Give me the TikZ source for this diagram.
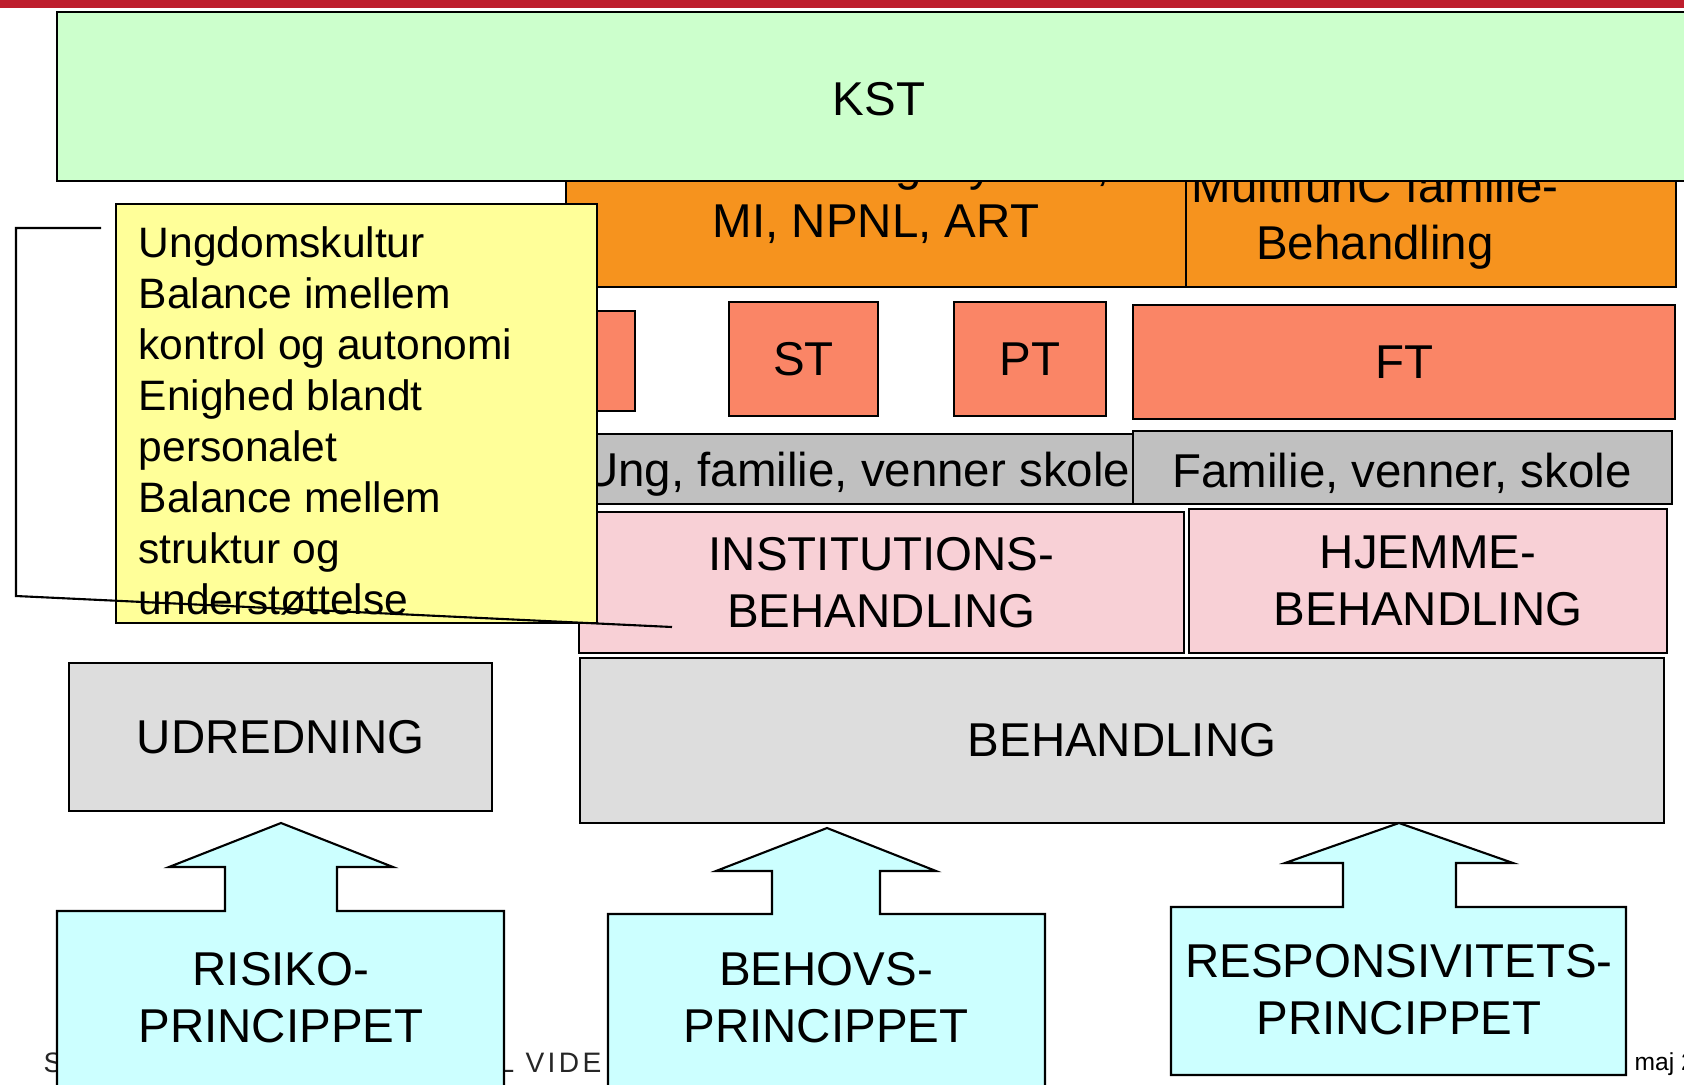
\documentclass[tikz,border=0pt]{standalone}
\usepackage{fontspec}
\setmainfont{Liberation Sans}
\newfontfamily\footfont[LetterSpace=12]{Liberation Sans}
\usetikzlibrary{fit}

\definecolor{topred}{HTML}{BE1E2D}
\definecolor{kstgreen}{HTML}{CCFFCC}
\definecolor{progorange}{HTML}{F6931E}
\definecolor{salmon}{HTML}{FA8566}
\definecolor{midgray}{HTML}{C0C0C0}
\definecolor{lightpink}{HTML}{F8D0D6}
\definecolor{palegray}{HTML}{DDDDDD}
\definecolor{noteyellow}{HTML}{FFFF99}
\definecolor{palecyan}{HTML}{CCFFFF}

\tikzset{
  box/.style={draw, line width=0.6pt, inner sep=0pt},
  txt/.style={inner sep=0pt, align=center, font=\fontsize{13.5}{16.2}\selectfont},
  notetxt/.style={inner sep=0pt, align=left, font=\fontsize{12.1}{14.5}\selectfont},
  foot/.style={inner sep=0pt, text=black!85, font=\footfont\fontsize{8}{9}\selectfont}
}

\begin{document}
\begin{tikzpicture}[x=0.01cm, y=-0.01cm]
    \useasboundingbox (0,0) rectangle (1684,1084);
    \clip (0,0) rectangle (1684,1084);
    \fill[topred] (0,0) rectangle (1684,8);

    % programme layer (partly under KST)
    \node[box, fill=progorange, fit={(566,140) (1186,287)}] (progL) {};
    \node[box, fill=progorange, fit={(1186,140) (1676,287)}] (progR) {};
    \node[txt] (progLtxt) at (876,195) {Forstærkningssystem,\\MI, NPNL, ART};
    \node[txt] (progRtxt) at (1375,219) {MultifunC familie-\\Behandling};

    \node[box, fill=kstgreen, fit={(57,12) (1720,181)}] (kst) {};
    \node[txt] (ksttxt) at (879,99) {KST};

    % therapies
    \node[box, fill=salmon, fit={(500,311) (635,411)}] (mt) {};
    \node[box, fill=salmon, fit={(729,302) (878,416)}] (st) {};
    \node[box, fill=salmon, fit={(954,302) (1106,416)}] (pt) {};
    \node[box, fill=salmon, fit={(1133,305) (1675,419)}] (ft) {};
    \node[txt] (sttxt) at (st.center) {ST};
    \node[txt] (pttxt) at (pt.center) {PT};
    \node[txt] (fttxt) at (ft.center) {FT};

    % networks
    \node[box, fill=midgray, fit={(500,434) (1133,504)}] (netL) {};
    \node[box, fill=midgray, fit={(1133,431) (1672,504)}] (netR) {};
    \node[txt, anchor=east] (netLtxt) at (1131,474) {Ung, familie, venner skole};
    \node[txt] (netRtxt) at (1402,473) {Familie, venner, skole};

    % settings
    \node[box, fill=lightpink, fit={(579,512) (1184,653)}] (inst) {};
    \node[box, fill=lightpink, fit={(1189,509) (1667,653)}] (home) {};
    \node[txt] (insttxt) at (inst.center) {INSTITUTIONS-\\BEHANDLING};
    \node[txt] (hometxt) at (home.center) {HJEMME-\\BEHANDLING};

    % note
    \node[box, fill=noteyellow, fit={(116,204) (597,623)}] (note) {};
    \node[notetxt, anchor=north west] (notetxt) at (138,226)
      {Ungdomskultur\\Balance imellem\\kontrol og autonomi\\Enighed blandt\\personalet\\Balance mellem\\struktur og\\understøttelse};
    \coordinate (brA) at (101,228);
    \coordinate (brB) at (16,228);
    \coordinate (brC) at (16,596);
    \coordinate (brD) at (672,627);
    \draw[line width=0.6pt] (brA) -- (brB) -- (brC) -- (brD);

    \node[box, fill=palegray, fit={(69,663) (492,811)}] (udr) {};
    \node[box, fill=palegray, fit={(580,658) (1664,823)}] (beh) {};
    \node[txt] (udrtxt) at (udr.center) {UDREDNING};
    \node[txt] (behtxt) at (beh.center) {BEHANDLING};

    % footer
    \node[foot, anchor=west] (footS) at (43,1063) {S};
    \node[foot, anchor=west] (footV) at (498,1063) {L VIDE};
    \node[inner sep=0pt, anchor=west, font=\fontsize{7}{8}\selectfont] (footdate) at (1634,1064) {maj 2};

    % principles
    \filldraw[fill=palecyan, line width=0.6pt] (57,1100) -- (57,911) -- (225,911) -- (225,867) -- (169,867) -- (281,823)
      -- (393,867) -- (337,867) -- (337,911) -- (504,911) -- (504,1100) -- cycle;
    \filldraw[fill=palecyan, line width=0.6pt] (608,1100) -- (608,914) -- (772,914) -- (772,871) -- (716,871) -- (827,828)
      -- (936,871) -- (880,871) -- (880,914) -- (1045,914) -- (1045,1100) -- cycle;
    \filldraw[fill=palecyan, line width=0.6pt] (1171,1075) -- (1171,907) -- (1343,907) -- (1343,863) -- (1285,863) -- (1399,823)
      -- (1513,863) -- (1456,863) -- (1456,907) -- (1626,907) -- (1626,1075) -- cycle;
    \node[txt] (risiko) at (281,998) {RISIKO-\\PRINCIPPET};
    \node[txt] (behov) at (826,998) {BEHOVS-\\PRINCIPPET};
    \node[txt] (resp) at (1399,990) {RESPONSIVITETS-\\PRINCIPPET};
\end{tikzpicture}
\end{document}
